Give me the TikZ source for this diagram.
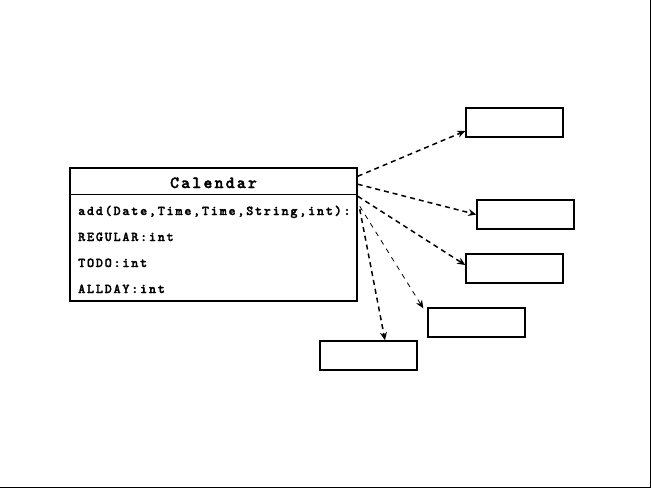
\documentclass[tikz,border=0pt]{standalone}
\usepackage{fontspec}
\newfontfamily\umlfont[Extension=.otf,LetterSpace=13,FakeBold=2]{lmmonolt10-bold}
\usetikzlibrary{arrows.meta,positioning}

\begin{document}
\begin{tikzpicture}[x=1pt,y=-1pt,>={Stealth[length=8pt,width=7pt]},
   class/.style={draw,line width=1.5pt,minimum width=287pt,minimum height=133pt,inner sep=0pt},
   target/.style={draw,line width=1.5pt,minimum width=97pt,minimum height=29pt,inner sep=0pt},
   member/.style={anchor=base west,inner sep=0pt,font=\umlfont\fontsize{13.5}{15}\selectfont},
   depends/.style={draw,dashed,line width=1.5pt,dash pattern=on 5pt off 4pt},
   weak/.style={draw,dashed,line width=0.8pt,dash pattern=on 5pt off 5pt}]
   \useasboundingbox (0,0) rectangle (651,488);
   \draw[line width=1pt] (650.5,0) -- (650.5,487.5) -- (0,487.5);

   \node[class] (cal) at (213.5,234.5) {};
   \draw[line width=0.8pt] ([yshift=-27pt]cal.north west) -- ([yshift=-27pt]cal.north east);
   \node[anchor=base,inner sep=0pt,font=\umlfont\fontsize{17}{19}\selectfont] (calname) at (213.5,188) {Calendar};
   \node[member] (add) at (78,215) {add(Date,Time,Time,String,int):};
   \node[member] (regular) at (78,241) {REGULAR:int};
   \node[member] (todo) at (78,267) {TODO:int};
   \node[member] (allday) at (78,293) {ALLDAY:int};

   \node[target] (t_1) at (514.5,122.5) {};
   \node[target] (t_2) at (525.5,214.5) {};
   \node[target] (t_3) at (514.5,268.5) {};
   \node[target] (t_4) at (476.5,322.5) {};
   \node[target] (t_5) at (368.5,355.5) {};

   \path[->]
    ([yshift=-9pt]cal.north east) edge[depends] ([yshift=-8.5pt]t_1.west)
    ([yshift=-17pt]cal.north east) edge[depends] (t_2.west)
    ([yshift=-29pt]cal.north east) edge[depends] ([yshift=3.5pt]t_3.west)
    ([xshift=2pt,yshift=-39pt]cal.north east) edge[weak] ([xshift=-4pt,yshift=-1pt]t_4.north west)
    ([xshift=2pt,yshift=-42pt]cal.north east) edge[depends] ([xshift=16.5pt]t_5.north);
\end{tikzpicture}
\end{document}
